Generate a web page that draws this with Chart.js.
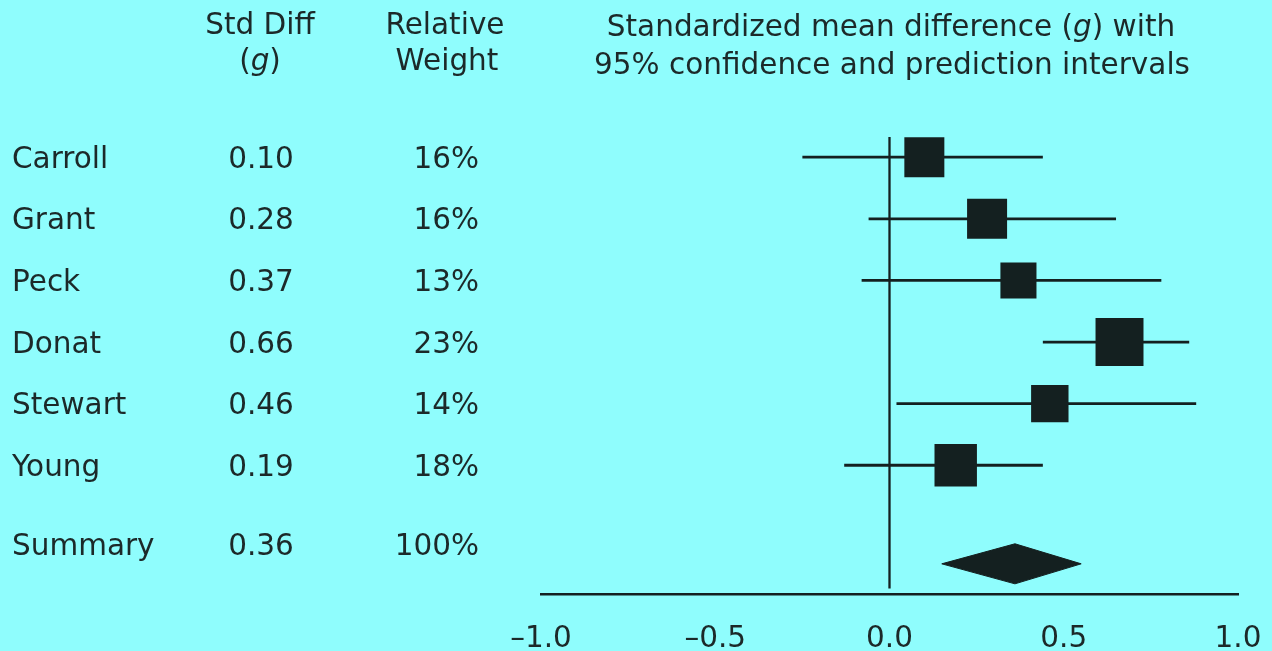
<!DOCTYPE html>
<html>
<head>
<meta charset="utf-8">
<script src="https://cdn.jsdelivr.net/npm/chart.js@4"></script>
<style>
  html, body { margin: 0; padding: 0; background: #8ffdfd; }
  #wrap { width: 1272px; height: 651px; }
</style>
</head>
<body>
<div id="wrap"><canvas id="forestChart" width="1272" height="651"></canvas></div>
<script>
// Data
const studies = ['Carroll', 'Grant', 'Peck', 'Donat', 'Stewart', 'Young'];
const stdDiff = [0.10, 0.28, 0.37, 0.66, 0.46, 0.19];
const relWeight = [16, 16, 13, 23, 14, 18];
const ciLower = [-0.25, -0.06, -0.08, 0.44, 0.02, -0.13];
const ciUpper = [0.44, 0.65, 0.78, 0.86, 0.88, 0.44];
const summaryLabel = 'Summary';
const summaryDiff = 0.36;
const summaryWeight = 100;
const summaryLower = 0.15;
const summaryUpper = 0.55;
const xTicks = [-1.0, -0.5, 0.0, 0.5, 1.0];

// Layout / style
const INK = '#142020';
const TEXT = '#1c2929';
const FONT = "'DejaVu Sans', sans-serif";
const FS = 29.5;
const SUMMARY_TEXT_ROW = 6.29;
const DIAMOND_ROW = 6.6;
const DIAMOND_HALF = 0.325;
const SQUARE_K = 10.0; // square side in px per sqrt(weight)

const rows = studies.map((s, i) => i);

// one dataset per confidence interval line
const ciSets = studies.map((s, i) => ({
    data: [{ x: ciLower[i], y: rows[i] }, { x: ciUpper[i], y: rows[i] }],
    showLine: true,
    borderColor: INK,
    borderWidth: 2.8,
    pointRadius: 0,
    order: 2
}));

const squares = {
    data: stdDiff.map((v, i) => ({ x: v, y: rows[i] })),
    pointStyle: 'rect',
    pointRadius: relWeight.map(w => SQUARE_K * Math.sqrt(w) / Math.SQRT2),
    backgroundColor: INK,
    borderColor: INK,
    borderWidth: 0,
    showLine: false,
    order: 0
};

const diamond = {
    data: [
        { x: summaryLower, y: DIAMOND_ROW },
        { x: summaryDiff, y: DIAMOND_ROW - DIAMOND_HALF },
        { x: summaryUpper, y: DIAMOND_ROW },
        { x: summaryDiff, y: DIAMOND_ROW + DIAMOND_HALF },
        { x: summaryLower, y: DIAMOND_ROW }
    ],
    showLine: true,
    fill: 'shape',
    backgroundColor: INK,
    borderColor: INK,
    borderWidth: 1,
    pointRadius: 0,
    tension: 0,
    order: 0
};

const zeroLine = {
    data: [{ x: 0, y: -0.33 }, { x: 0, y: 7.0 }],
    showLine: true,
    borderColor: INK,
    borderWidth: 2.3,
    pointRadius: 0,
    order: 3
};

function drawMixed(ctx, parts, cx, y) {
    // parts: [text, italic]
    let total = 0;
    parts.forEach(p => {
        ctx.font = (p[1] ? 'italic ' : '') + FS + 'px ' + FONT;
        total += ctx.measureText(p[0]).width;
    });
    let x = cx - total / 2;
    ctx.textAlign = 'left';
    parts.forEach(p => {
        ctx.font = (p[1] ? 'italic ' : '') + FS + 'px ' + FONT;
        ctx.fillText(p[0], x, y);
        x += ctx.measureText(p[0]).width;
    });
}

// Table columns and headers
const tablePlugin = {
    id: 'forestTable',
    afterDraw(chart) {
        const ctx = chart.ctx;
        const yScale = chart.scales.y;
        ctx.save();
        ctx.fillStyle = TEXT;
        ctx.textBaseline = 'alphabetic';
        ctx.font = FS + 'px ' + FONT;

        // headers
        ctx.textAlign = 'center';
        ctx.fillText('Std Diff', 260, 34);
        drawMixed(ctx, [['(', false], ['g', true], [')', false]], 260, 70);
        ctx.font = FS + 'px ' + FONT;
        ctx.textAlign = 'center';
        ctx.fillText('Relative', 445, 34);
        ctx.fillText('Weight', 447, 70);
        drawMixed(ctx, [['Standardized mean difference (', false], ['g', true], [') with', false]], 891, 36);
        ctx.font = FS + 'px ' + FONT;
        ctx.textAlign = 'center';
        ctx.fillText('95% confidence and prediction intervals', 892, 74);

        // rows
        const rowText = (name, diff, w, row) => {
            const y = yScale.getPixelForValue(row) + 10.5;
            ctx.textAlign = 'left';
            ctx.fillText(name, 12, y);
            ctx.textAlign = 'center';
            ctx.fillText(diff.toFixed(2), 261, y);
            ctx.textAlign = 'right';
            ctx.fillText(w + '%', 479, y);
        };
        studies.forEach((s, i) => rowText(s, stdDiff[i], relWeight[i], rows[i]));
        rowText(summaryLabel, summaryDiff, summaryWeight, SUMMARY_TEXT_ROW);
        ctx.restore();
    }
};

const ctx = document.getElementById('forestChart').getContext('2d');
const forestChart = new Chart(ctx, {
    type: 'scatter',
    data: {
        datasets: [squares, diamond].concat(ciSets, [zeroLine])
    },
    options: {
        responsive: false,
        animation: false,
        events: [],
        layout: { padding: { left: 541, right: 34, top: 34, bottom: 0 } },
        plugins: {
            legend: { display: false },
            tooltip: { enabled: false }
        },
        scales: {
            x: {
                type: 'linear',
                min: -1,
                max: 1,
                afterBuildTicks: (scale) => {
                    scale.ticks = xTicks.map(v => ({ value: v }));
                },
                afterFit: (scale) => {
                    scale.height = 57;
                    scale.paddingLeft = 0;
                    scale.paddingRight = 0;
                },
                grid: { display: false },
                border: { display: true, color: INK, width: 2.5 },
                ticks: {
                    padding: 20,
                    color: TEXT,
                    font: { family: FONT, size: FS },
                    maxRotation: 0,
                    callback: (v) => (v < 0 ? '\u2013' : '') + Math.abs(v).toFixed(1)
                }
            },
            y: {
                type: 'linear',
                display: false,
                reverse: true,
                min: -2,
                max: 7.09
            }
        }
    },
    plugins: [tablePlugin]
});
</script>
</body>
</html>
